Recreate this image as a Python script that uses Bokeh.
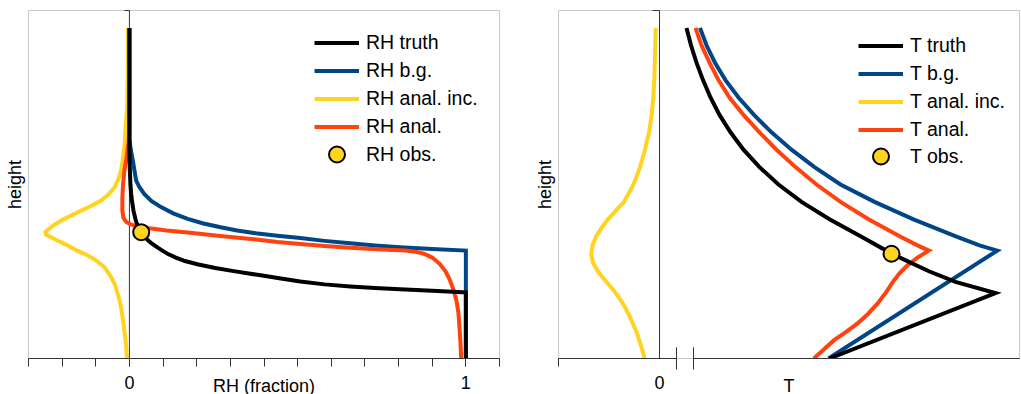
from bokeh.plotting import figure
from bokeh.models import Range1d, FixedTicker, Span, Legend, LegendItem
from bokeh.layouts import row
from bokeh.embed import file_html
from bokeh.resources import INLINE

# ---------------- data: RH panel (x = RH fraction, h = height) ----------------
rh_truth_x = [0.0, 0.0, 0.001, 0.003, 0.005, 0.008, 0.012, 0.018, 0.023, 0.030, 0.035, 0.045, 0.055, 0.067,
              0.082, 0.098, 0.115, 0.138, 0.165, 0.205, 0.255, 0.31, 0.35, 0.39, 0.45, 0.508, 0.58, 0.656,
              0.73, 0.804, 0.9, 0.99, 1.0, 1.0]
rh_truth_h = [9.5, 6.0, 5.5, 5.0, 4.75, 4.5, 4.25, 4.0, 3.85, 3.7, 3.62, 3.5, 3.4, 3.3,
              3.2, 3.1, 3.0, 2.9, 2.8, 2.7, 2.6, 2.51, 2.45, 2.39, 2.3, 2.21, 2.13, 2.07,
              2.025, 1.99, 1.945, 1.905, 1.9, 0.0]

rh_bg_x = [0.0, 0.0, 0.004, 0.01, 0.015, 0.02, 0.03, 0.044, 0.065, 0.094, 0.13, 0.173, 0.22, 0.271,
           0.32, 0.375, 0.44, 0.508, 0.58, 0.656, 0.73, 0.804, 0.9, 1.0, 1.0]
rh_bg_h = [9.5, 6.3, 6.0, 5.69, 5.4, 5.11, 4.92, 4.73, 4.53, 4.35, 4.17, 4.01, 3.88, 3.77,
           3.68, 3.6, 3.53, 3.46, 3.38, 3.31, 3.25, 3.2, 3.15, 3.1, 0.0]

rh_inc_x = [-0.004, -0.005, -0.007, -0.01, -0.015, -0.02, -0.025, -0.033, -0.044, -0.062, -0.084, -0.113,
            -0.143, -0.173, -0.202, -0.225, -0.241, -0.25, -0.248, -0.235, -0.215, -0.19, -0.16, -0.123,
            -0.095, -0.074, -0.058, -0.044, -0.033, -0.025, -0.019, -0.015, -0.01, -0.007]
rh_inc_h = [9.5, 8.0, 7.2, 6.84, 6.07, 5.7, 5.4, 5.15, 4.92, 4.72, 4.54, 4.39,
            4.25, 4.11, 3.97, 3.83, 3.71, 3.63, 3.56, 3.49, 3.40, 3.28, 3.12, 2.96,
            2.79, 2.62, 2.4, 2.15, 1.8, 1.47, 1.1, 0.8, 0.4, 0.0]

rh_anal_x = [0.0, 0.0, -0.003, -0.008, -0.015, -0.019, -0.021, -0.021, -0.018, -0.01, 0.002, 0.015, 0.054,
             0.11, 0.173, 0.27, 0.37, 0.44, 0.508, 0.58, 0.656, 0.75, 0.82, 0.85, 0.875, 0.9, 0.922,
             0.94, 0.952, 0.963, 0.972, 0.978, 0.981, 0.984, 0.986]
rh_anal_h = [9.5, 6.5, 6.2, 5.8, 5.4, 5.0, 4.6, 4.25, 4.05, 3.93, 3.86, 3.82, 3.75,
             3.68, 3.62, 3.52, 3.43, 3.35, 3.29, 3.23, 3.18, 3.13, 3.1, 3.07, 3.01, 2.9, 2.72,
             2.5, 2.27, 1.98, 1.67, 1.3, 0.9, 0.45, 0.0]

rh_obs_x = [0.035]
rh_obs_h = [3.63]

rh_tick_major = [0, 1]
rh_tick_minor = [-0.3, -0.2, -0.1, 0.0, 0.1, 0.2, 0.3, 0.4, 0.5, 0.6, 0.7, 0.8, 0.9, 1.0, 1.1]

# ---------------- data: T panel (T in K, increment in K) ----------------
t_truth_h = [9.5, 9.0, 8.5, 8.0, 7.5, 7.0, 6.5, 6.0, 5.5, 5.0, 4.5, 4.0, 3.5, 3.0, 2.5, 2.2, 1.88, 0.0]
t_truth_x = [220.0, 220.45, 221.0, 221.65, 222.4, 223.3, 224.4, 225.7, 227.3, 229.2, 231.5, 234.3,
             237.5, 240.6, 244.3, 246.9, 250.9, 234.3]

t_bg_h = [9.5, 9.0, 8.5, 8.0, 7.5, 7.0, 6.5, 6.0, 5.5, 5.0, 4.5, 4.0, 3.5, 3.25, 3.1, 0.0]
t_bg_x = [221.35, 222.0, 222.85, 223.9, 225.2, 226.75, 228.5, 230.5, 232.8, 235.4, 238.8, 242.7,
          247.0, 249.3, 251.07, 234.2]

t_inc_h = [9.5, 9.0, 8.5, 8.0, 7.5, 7.0, 6.5, 6.0, 5.5, 5.0, 4.5, 4.0, 3.75, 3.5, 3.25, 3.0,
           2.75, 2.5, 2.25, 2.0, 1.75, 1.5, 1.25, 1.0, 0.75, 0.5, 0.25, 0.0]
t_inc_x = [-0.38, -0.42, -0.47, -0.52, -0.62, -0.78, -1.05, -1.45, -1.95, -2.6, -3.55, -5.15, -5.8,
           -6.35, -6.7, -6.83, -6.65, -6.15, -5.45, -4.7, -4.05, -3.5, -3.05, -2.65, -2.28, -2.0,
           -1.72, -1.5]

t_anal_h = [9.5, 9.0, 8.5, 8.0, 7.5, 7.0, 6.5, 6.0, 5.5, 5.0, 4.5, 4.0, 3.5, 3.25, 3.1,
            2.9, 2.67, 2.45, 2.24, 1.9, 1.57, 1.28, 1.0, 0.75, 0.52, 0.25, 0.0]
t_anal_x = [220.9, 221.5, 222.3, 223.2, 224.3, 225.7, 227.3, 229.0, 230.9, 233.0, 235.4, 238.2,
            241.4, 243.1, 244.23, 243.1, 242.07, 241.3, 240.73, 239.95, 239.07, 238.15, 237.07,
            235.9, 234.73, 233.7, 232.73]

t_obs_h = [3.01]
t_obs_x = [240.5]

inc_tick_major = [0]
inc_tick_minor = [-10.1]

# ---------------- style ----------------
FONT = "Liberation Sans"
C_TRUTH, C_BG, C_INC, C_ANAL = "#000000", "#004586", "#ffd320", "#ff420e"
AXIS_C = "#333333"
FRAME_C = "#c8c8c8"
LW = 4

H_RANGE = (0, 10)
RH_RANGE = (-0.3, 1.1)
INC_RANGE = (-10.1, 36.0)
T_RANGE = (207.2, 253.3)
BREAK = (1.7, 3.4)


def base(frame_width, xr, border_right):
    p = figure(frame_width=frame_width, frame_height=348,
               x_range=Range1d(*xr), y_range=Range1d(*H_RANGE),
               output_backend="svg", toolbar_location=None,
               min_border_left=28, min_border_right=border_right,
               min_border_top=10, min_border_bottom=36)
    p.xgrid.visible = False
    p.ygrid.visible = False
    p.outline_line_color = FRAME_C
    p.background_fill_color = "white"
    p.border_fill_color = "white"
    ya = p.yaxis[0]
    ya.ticker = FixedTicker(ticks=[])
    ya.axis_line_color = None
    ya.major_tick_line_color = None
    ya.minor_tick_line_color = None
    ya.axis_label = "height"
    ya.axis_label_standoff = 4
    ya.axis_label_text_font = FONT
    ya.axis_label_text_font_size = "18px"
    ya.axis_label_text_font_style = "normal"
    ya.axis_label_text_color = "#000000"
    xa = p.xaxis[0]
    xa.axis_line_color = AXIS_C
    xa.major_tick_line_color = AXIS_C
    xa.minor_tick_line_color = AXIS_C
    xa.major_tick_in = 0
    xa.major_tick_out = 8
    xa.minor_tick_in = 0
    xa.minor_tick_out = 8
    xa.major_label_standoff = 9
    xa.major_label_text_font = FONT
    xa.major_label_text_font_size = "18px"
    xa.major_label_text_color = "#000000"
    xa.axis_label_standoff = -16
    xa.axis_label_text_font = FONT
    xa.axis_label_text_font_size = "18px"
    xa.axis_label_text_font_style = "normal"
    xa.axis_label_text_color = "#000000"
    p.add_layout(Span(location=0, dimension="height", line_color=AXIS_C,
                      line_width=1, level="underlay"))
    return p


def legend(items, loc, glyph_h):
    return Legend(items=items, location=loc, border_line_color=None,
                  background_fill_alpha=0, label_text_font=FONT,
                  label_text_font_size="19.5px", label_text_color="#000000",
                  glyph_width=45, glyph_height=glyph_h, label_height=21,
                  label_standoff=7, spacing=5, padding=0, margin=0)


# ---------------- left: RH ----------------
p1 = base(471, RH_RANGE, 31)
p1.xaxis[0].ticker = FixedTicker(ticks=rh_tick_major, minor_ticks=rh_tick_minor)
p1.xaxis[0].axis_label = "RH (fraction)"

r_inc = p1.line(rh_inc_x, rh_inc_h, line_color=C_INC, line_width=LW, line_join="miter")
r_bg = p1.line(rh_bg_x, rh_bg_h, line_color=C_BG, line_width=LW, line_join="miter")
r_an = p1.line(rh_anal_x, rh_anal_h, line_color=C_ANAL, line_width=LW, line_join="miter")
r_tr = p1.line(rh_truth_x, rh_truth_h, line_color=C_TRUTH, line_width=LW, line_join="miter")
r_ob = p1.scatter(rh_obs_x, rh_obs_h, size=16, fill_color=C_INC, line_color="black", line_width=2)
p1.segment(x0=[-0.015], y0=[H_RANGE[1]], x1=[0], y1=[H_RANGE[1]], line_color=AXIS_C,
           line_width=1, level="overlay")
p1.add_layout(legend([
    LegendItem(label="RH truth", renderers=[r_tr]),
    LegendItem(label="RH b.g.", renderers=[r_bg]),
    LegendItem(label="RH anal. inc.", renderers=[r_inc]),
    LegendItem(label="RH anal.", renderers=[r_an]),
], (286, 220), 21))
p1.add_layout(legend([LegendItem(label="RH obs.", renderers=[r_ob])], (286, 184), 40))

# ---------------- right: T ----------------
p2 = base(461, INC_RANGE, 1)
p2.extra_x_ranges = {"T": Range1d(*T_RANGE)}
xa2 = p2.xaxis[0]
xa2.ticker = FixedTicker(ticks=inc_tick_major, minor_ticks=inc_tick_minor)
xa2.major_tick_line_color = None
xa2.axis_line_color = None
xa2.axis_label = "T"

t_inc = p2.line(t_inc_x, t_inc_h, line_color=C_INC, line_width=LW, line_join="miter")
t_bg = p2.line(t_bg_x, t_bg_h, line_color=C_BG, line_width=LW, line_join="miter", x_range_name="T")
t_an = p2.line(t_anal_x, t_anal_h, line_color=C_ANAL, line_width=LW, line_join="miter", x_range_name="T")
t_tr = p2.line(t_truth_x, t_truth_h, line_color=C_TRUTH, line_width=LW, line_join="miter", x_range_name="T")
t_ob = p2.scatter(t_obs_x, t_obs_h, size=16, fill_color=C_INC, line_color="black", line_width=2,
                  x_range_name="T")
p2.segment(x0=[INC_RANGE[0], BREAK[1]], y0=[0, 0], x1=[BREAK[0], INC_RANGE[1]], y1=[0, 0],
           line_color=AXIS_C, line_width=1, level="overlay")
p2.segment(x0=list(BREAK), y0=[-0.32, -0.32], x1=list(BREAK), y1=[0.32, 0.32],
           line_color=AXIS_C, line_width=1, level="overlay")
p2.segment(x0=[-0.7], y0=[H_RANGE[1]], x1=[0], y1=[H_RANGE[1]], line_color=AXIS_C,
           line_width=1, level="overlay")
p2.add_layout(legend([
    LegendItem(label="T truth", renderers=[t_tr]),
    LegendItem(label="T b.g.", renderers=[t_bg]),
    LegendItem(label="T anal. inc.", renderers=[t_inc]),
    LegendItem(label="T anal.", renderers=[t_an]),
], (300, 217), 21))
p2.add_layout(legend([LegendItem(label="T obs.", renderers=[t_ob])], (300, 182), 40))

layout = row(p1, p2)
open("out.html", "w").write(file_html(layout, INLINE))
